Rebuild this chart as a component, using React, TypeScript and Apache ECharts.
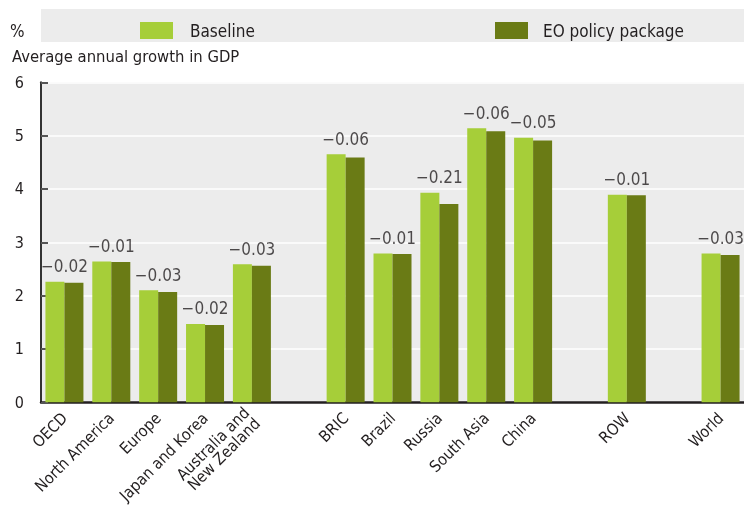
import React, { useEffect, useRef } from "react";
import * as echarts from "echarts";

const categories = [
  "OECD",
  "North America",
  "Europe",
  "Japan and Korea",
  "Australia and\nNew Zealand",
  "",
  "BRIC",
  "Brazil",
  "Russia",
  "South Asia",
  "China",
  "",
  "ROW",
  "",
  "World",
];

const baseline: (number | string)[] = [2.26, 2.64, 2.1, 1.47, 2.59, "-", 4.65, 2.79, 3.93, 5.14, 4.96, "-", 3.89, "-", 2.79];
const eoPackage: (number | string)[] = [2.24, 2.63, 2.07, 1.45, 2.56, "-", 4.59, 2.78, 3.72, 5.08, 4.91, "-", 3.88, "-", 2.76];
const differences: (string | null)[] = ["−0.02", "−0.01", "−0.03", "−0.02", "−0.03", null, "−0.06", "−0.01", "−0.21", "−0.06", "−0.05", null, "−0.01", null, "−0.03"];
const yTicks = [0, 1, 2, 3, 4, 5, 6];

const FONT = '"DejaVu Sans Condensed", "Liberation Sans Narrow", sans-serif';
const TEXT = "#231f20";
const LIGHT = "#a6ce39";
const DARK = "#6a7b15";

export default function App() {
  const ref = useRef<HTMLDivElement>(null);
  useEffect(() => {
    if (!ref.current) return;
    const chart = echarts.init(ref.current, null, { renderer: "svg" });
    const labelPos = baseline.map((b, i) => {
      const e = eoPackage[i];
      if (typeof b !== "number" || typeof e !== "number") return "-";
      return Math.max(b, e);
    });
    chart.setOption({
      animation: false,
      textStyle: { fontFamily: FONT, color: TEXT },
      graphic: [
        { type: "rect", shape: { x: 41, y: 9, width: 720, height: 33 }, style: { fill: "#ececec" }, z: -1 },
        { type: "text", x: 10, y: 31, style: { text: "%", font: `17px ${FONT}`, fill: TEXT, verticalAlign: "middle" } },
        { type: "text", x: 12, y: 56, style: { text: "Average annual growth in GDP", font: `16.5px ${FONT}`, fill: TEXT, verticalAlign: "middle" } },
      ],
      legend: [
        {
          data: ["Baseline"],
          left: 135,
          top: 17,
          itemWidth: 33,
          itemHeight: 17,
          icon: "rect",
          textStyle: { fontFamily: FONT, fontSize: 17, color: TEXT, padding: [0, 0, 0, 12] },
        },
        {
          data: ["EO policy package"],
          left: 490,
          top: 17,
          itemWidth: 33,
          itemHeight: 17,
          icon: "rect",
          textStyle: { fontFamily: FONT, fontSize: 17, color: TEXT, padding: [0, 0, 0, 10] },
        },
      ],
      grid: {
        left: 41,
        top: 82.3,
        width: 712.5,
        height: 320,
        show: true,
        backgroundColor: "#ececec",
        borderWidth: 0,
      },
      xAxis: {
        type: "category",
        data: categories,
        axisLine: { lineStyle: { color: TEXT, width: 2.5 } },
        axisTick: { inside: true, length: 7, lineStyle: { color: "#777", width: 1.5 } },
        axisLabel: {
          interval: 0,
          rotate: 45,
          fontFamily: FONT,
          fontSize: 16,
          color: TEXT,
          margin: 13,
          lineHeight: 15,
        },
      },
      yAxis: {
        type: "value",
        min: 0,
        max: 6,
        interval: 1,
        axisLine: { show: true, lineStyle: { color: "#333", width: 2 } },
        axisTick: { show: true, inside: true, length: 7, lineStyle: { color: "#555", width: 2 } },
        splitLine: { lineStyle: { color: "#ffffff", width: 1.5 } },
        axisLabel: {
          fontFamily: FONT,
          fontSize: 16,
          color: TEXT,
          margin: 17,
          formatter: (v: number) => (yTicks.includes(v) ? String(v) : ""),
        },
      },
      series: [
        {
          name: "Baseline",
          type: "bar",
          data: baseline,
          barWidth: 19,
          barGap: "0%",
          itemStyle: { color: LIGHT },
        },
        {
          name: "EO policy package",
          type: "bar",
          data: eoPackage,
          barWidth: 19,
          itemStyle: { color: DARK },
        },
        {
          type: "scatter",
          data: labelPos,
          symbolSize: 0,
          silent: true,
          label: {
            show: true,
            position: "top",
            distance: 7,
            fontFamily: FONT,
            fontSize: 17,
            color: TEXT,
            formatter: (p: any) => differences[p.dataIndex] ?? "",
          },
        },
      ],
    });
    return () => chart.dispose();
  }, []);
  return <div ref={ref} style={{ position: "fixed", left: 0, top: 0, width: 744, height: 507 }} />;
}
